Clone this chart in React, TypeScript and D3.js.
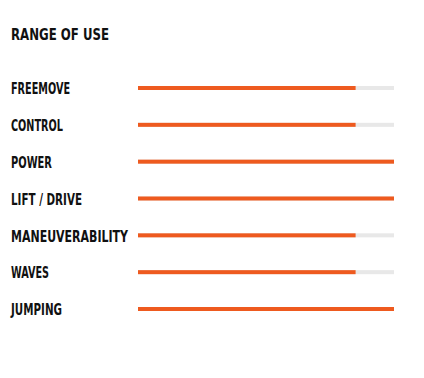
import React from "react";
import * as d3 from "d3";

const title = "RANGE OF USE";
const categories = ["FREEMOVE", "CONTROL", "POWER", "LIFT / DRIVE", "MANEUVERABILITY", "WAVES", "JUMPING"];
const values = [85, 85, 100, 100, 85, 85, 100];
const maxValue = 100;

// layout: rendered label widths in px (condensed display face in the reference)
const labelWidthPx: Record<string, number> = {
  FREEMOVE: 59,
  CONTROL: 52,
  POWER: 41,
  "LIFT / DRIVE": 71,
  MANEUVERABILITY: 117,
  WAVES: 38,
  JUMPING: 51,
};

const W = 424;
const H = 378;

export default function App() {
  const x = d3.scaleLinear().domain([0, maxValue]).range([138, 394]);
  const y = d3.scalePoint<string>().domain(categories).range([88, 309]);
  const font = "'DejaVu Sans Condensed', 'DejaVu Sans', sans-serif";
  return (
    <svg width={W} height={H} style={{ position: "absolute", left: 0, top: 0 }}>
      <rect width={W} height={H} fill="#fff" />
      <text x={11} y={40} fontFamily={font} fontStretch="condensed" fontSize={15.5} fontWeight={600} fill="#111"
        textLength={98} lengthAdjust="spacingAndGlyphs">{title}</text>
      {categories.map((c, i) => {
        const cy = y(c)!;
        return (
          <g key={c}>
            <text x={11} y={cy + 6.3} fontFamily={font} fontStretch="condensed" fontSize={15.5} fontWeight={600} fill="#111"
              textLength={labelWidthPx[c]} lengthAdjust="spacingAndGlyphs">{c}</text>
            <rect x={x(0)} y={cy - 2} width={x(maxValue) - x(0)} height={4} fill="#e8e8e8" />
            <rect x={x(0)} y={cy - 2} width={x(values[i]) - x(0)} height={4} fill="#ee5a1f" />
          </g>
        );
      })}
    </svg>
  );
}
